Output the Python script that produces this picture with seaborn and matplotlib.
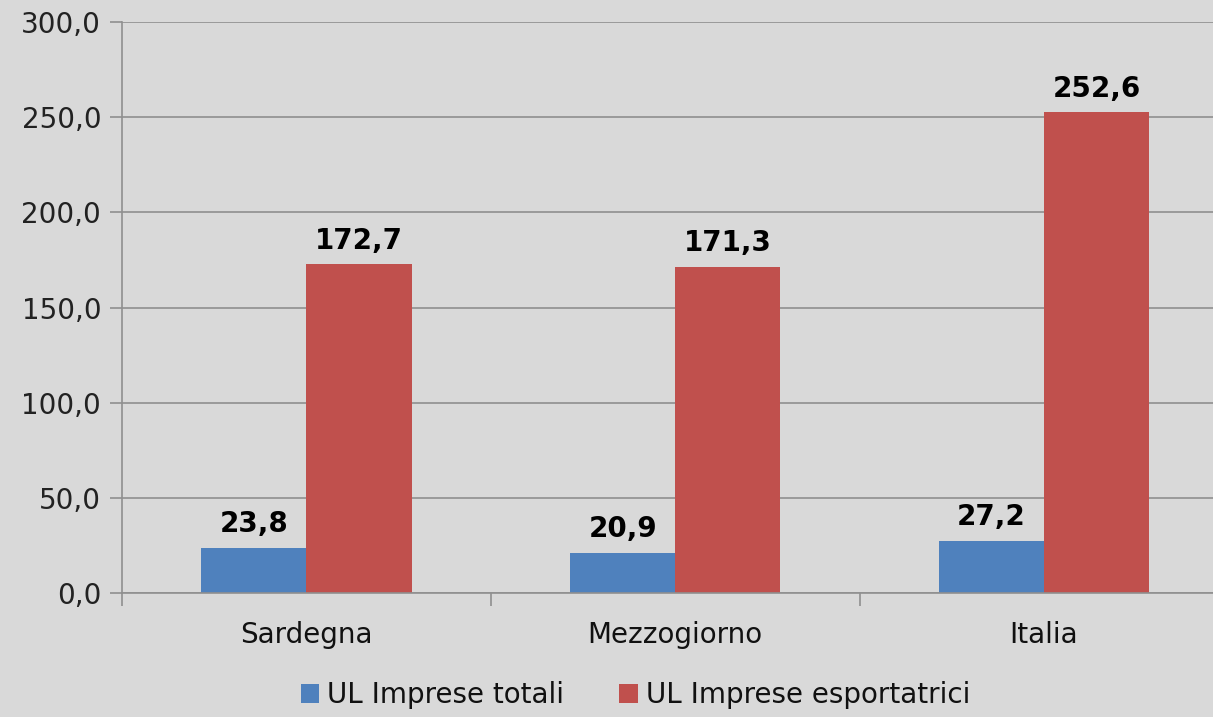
import matplotlib
matplotlib.use("Agg")
import matplotlib.pyplot as plt
import seaborn as sns
import pandas as pd
from matplotlib.ticker import FuncFormatter, FixedLocator

categories = ["Sardegna", "Mezzogiorno", "Italia"]
series_names = ["UL Imprese totali", "UL Imprese esportatrici"]
totali = [23.8, 20.9, 27.2]
esportatrici = [172.7, 171.3, 252.6]
yticks = [0, 50, 100, 150, 200, 250, 300]

df = pd.DataFrame({
    "cat": categories * 2,
    "serie": [series_names[0]] * 3 + [series_names[1]] * 3,
    "val": totali + esportatrici,
})

sns.set_theme(style="white")
plt.rcParams["font.family"] = ["DejaVu Sans"]

bg = "#d9d9d9"
grid_c = "#8f8f8f"
fig = plt.figure(figsize=(12.13, 7.17), dpi=100, facecolor=bg)
ax = fig.add_axes([0.1006, 0.173, 1.0127 - 0.1006, 0.796])
ax.set_facecolor(bg)

sns.barplot(data=df, x="cat", y="val", hue="serie", order=categories,
            hue_order=series_names, palette=["#4f81bd", "#c0504d"],
            width=0.57, gap=0, saturation=1, linewidth=0, edgecolor="none",
            ax=ax, legend=True)

for cont in ax.containers:
    ax.bar_label(cont, labels=[f"{v:.1f}".replace(".", ",") for v in cont.datavalues],
                 padding=7, fontsize=20, fontweight="bold", color="black")

ax.set_ylim(0, 300)
ax.set_xlim(-0.5, 2.5)
ax.set_yticks(yticks)
ax.yaxis.set_major_formatter(FuncFormatter(lambda v, p: f"{v:.1f}".replace(".", ",")))
ax.grid(axis="y", color=grid_c, linewidth=1.2)
ax.set_axisbelow(True)
ax.set_xlabel("")
ax.set_ylabel("")

ax.xaxis.set_minor_locator(FixedLocator([-0.5, 0.5, 1.5, 2.5]))
ax.tick_params(axis="x", which="major", bottom=False, length=0, labelsize=20, pad=20,
               labelcolor="#111111")
ax.tick_params(axis="x", which="minor", bottom=True, length=9, width=1.2, color=grid_c,
               direction="out")
ax.tick_params(axis="y", which="major", left=True, length=9, width=1.2, color=grid_c,
               direction="out", labelsize=20, labelcolor="#222222", pad=6)

for s in ["top", "right"]:
    ax.spines[s].set_visible(False)
for s in ["left", "bottom"]:
    ax.spines[s].set_color(grid_c)
    ax.spines[s].set_linewidth(1.2)

leg = ax.legend(loc="center", bbox_to_anchor=(0.464, -0.179), ncol=2, frameon=False,
                fontsize=20, handlelength=0.65, handleheight=0.65, handletextpad=0.3,
                columnspacing=2.0, borderaxespad=0, borderpad=0)
for t in leg.get_texts():
    t.set_color("#111111")

fig.savefig("out.png", dpi=100, facecolor=bg)
